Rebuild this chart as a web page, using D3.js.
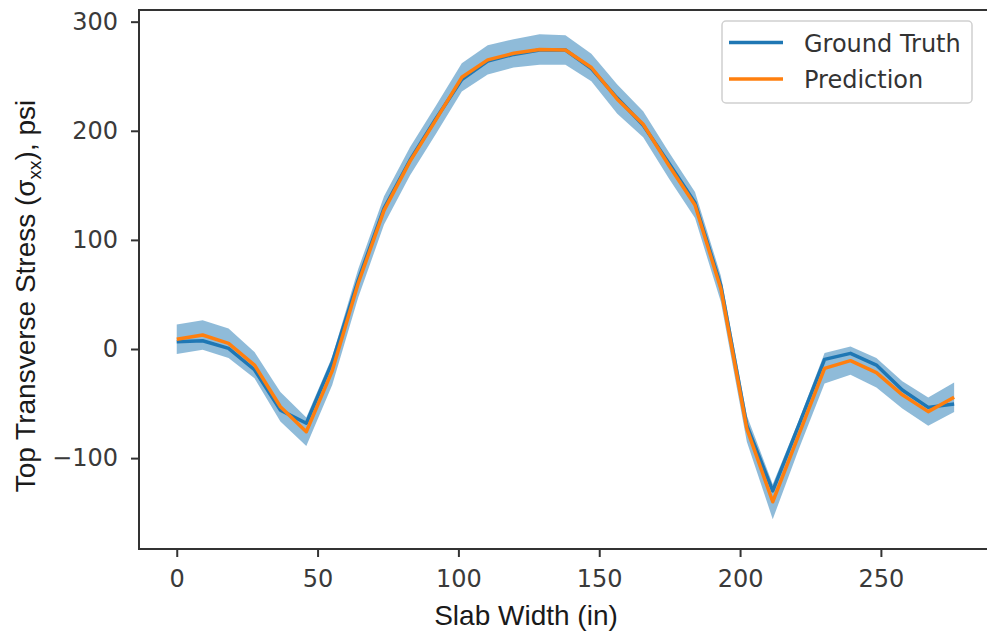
<!DOCTYPE html>
<html>
<head>
<meta charset="utf-8">
<script src="https://cdn.jsdelivr.net/npm/d3@7"></script>
<style>
  html, body { margin: 0; padding: 0; background: #fff; }
  svg { display: block; }
</style>
</head>
<body>
<svg id="chart" width="987" height="637"></svg>
<script>
// Transverse stress across the slab width: measured vs. predicted, with the prediction band
const slabWidth = [0, 9.2, 18.4, 27.6, 36.8, 46, 55.2, 64.4, 73.6, 82.8, 92, 101.2, 110.4, 119.6, 128.8,
  138, 147.2, 156.4, 165.6, 174.8, 184, 193.2, 202.4, 211.6, 220.8, 230, 239.2, 248.4, 257.6, 266.8, 276];

const groundTruth = [6.7, 7.6, 0.6, -19, -56, -68, -12, 63, 129, 173, 211, 247, 264, 270, 274,
  274, 257, 230, 205, 170, 134, 58, -70, -130, -70, -9.5, -4, -14.7, -37.6, -53.5, -50.4];

const prediction = [8.9, 12.8, 5.2, -14.7, -52.9, -75.8, -20, 60, 127, 172, 210, 249, 265, 271, 274.5,
  274, 258, 229, 206, 168, 132, 55, -73, -140, -79, -17.7, -10.7, -21.7, -42, -57.4, -44.3];

// half-width of the shaded band around the prediction
const spread = [13.5, 13.5, 13.5, 12, 13.5, 13, 13, 13, 13, 13, 13, 13, 13.5, 13, 14,
  13.5, 12.5, 13.5, 12, 12, 12, 12, 12, 16, 13, 14, 13, 13.5, 12.5, 13, 13.5];

const xTicks = [0, 50, 100, 150, 200, 250];
const yTicks = [-100, 0, 100, 200, 300];
const seriesNames = ["Ground Truth", "Prediction"];
const seriesColors = ["#1f77b4", "#ff7f0e"];

const rows = slabWidth.map((w, i) => ({
  w, gt: groundTruth[i], pr: prediction[i], lo: prediction[i] - spread[i], hi: prediction[i] + spread[i]
}));

const svg = d3.select("#chart");
const plotLeft = 139, plotRight = 993, plotTop = 10, plotBottom = 549;

const x = d3.scaleLinear().domain([-13.4, 289.8]).range([plotLeft, plotRight]);
const y = d3.scaleLinear().domain([-183.3, 310.7]).range([plotBottom, plotTop]);

const tickFont = "'DejaVu Sans', sans-serif";
const labelFont = "'Liberation Sans', Arial, sans-serif";

// shaded band
svg.append("path")
  .datum(rows)
  .attr("d", d3.area().x(d => x(d.w)).y0(d => y(d.lo)).y1(d => y(d.hi)))
  .attr("fill", "#1f77b4")
  .attr("fill-opacity", 0.5)
  .attr("stroke", "none");

// lines
svg.append("path")
  .datum(rows)
  .attr("d", d3.line().x(d => x(d.w)).y(d => y(d.gt)))
  .attr("fill", "none")
  .attr("stroke", seriesColors[0])
  .attr("stroke-width", 3.5)
  .attr("stroke-linejoin", "round");

svg.append("path")
  .datum(rows)
  .attr("d", d3.line().x(d => x(d.w)).y(d => y(d.pr)))
  .attr("fill", "none")
  .attr("stroke", seriesColors[1])
  .attr("stroke-width", 3.5)
  .attr("stroke-linejoin", "round");

// frame
svg.append("rect")
  .attr("x", plotLeft).attr("y", plotTop)
  .attr("width", plotRight - plotLeft).attr("height", plotBottom - plotTop)
  .attr("fill", "none")
  .attr("stroke", "#333")
  .attr("stroke-width", 2);

// axes
const xAxis = svg.append("g")
  .attr("transform", `translate(0,${plotBottom})`)
  .call(d3.axisBottom(x).tickValues(xTicks).tickFormat(d3.format("d")).tickSize(8).tickPadding(13).tickSizeOuter(0));
const yAxis = svg.append("g")
  .attr("transform", `translate(${plotLeft},0)`)
  .call(d3.axisLeft(y).tickValues(yTicks).tickFormat(d => d < 0 ? "\u2212" + Math.abs(d) : d).tickSize(8).tickPadding(13).tickSizeOuter(0));

[xAxis, yAxis].forEach(g => {
  g.select(".domain").remove();
  g.selectAll(".tick line").attr("stroke", "#333").attr("stroke-width", 2);
  g.selectAll(".tick text")
    .attr("fill", "#3a3a3a")
    .style("font-family", tickFont)
    .style("font-size", "24px");
});

// axis titles
svg.append("text")
  .attr("x", 526).attr("y", 625)
  .attr("text-anchor", "middle")
  .attr("fill", "#1a1a1a")
  .style("font-family", labelFont)
  .style("font-size", "28px")
  .text("Slab Width (in)");

const yTitle = svg.append("text")
  .attr("transform", "translate(35,296) rotate(-90)")
  .attr("text-anchor", "middle")
  .attr("fill", "#1a1a1a")
  .style("font-family", labelFont)
  .style("font-size", "28px");
yTitle.append("tspan").text("Top Transverse Stress (\u03c3");
yTitle.append("tspan").attr("dy", 6).style("font-size", "19px").text("xx");
yTitle.append("tspan").attr("dy", -6).text("), psi");

// legend
const legend = svg.append("g");
legend.append("rect")
  .attr("x", 722).attr("y", 21)
  .attr("width", 250).attr("height", 82)
  .attr("rx", 4)
  .attr("fill", "#fff").attr("fill-opacity", 0.8)
  .attr("stroke", "#d0d0d0").attr("stroke-width", 1.5);

seriesNames.forEach((name, i) => {
  const ly = 42.5 + i * 36.5;
  legend.append("line")
    .attr("x1", 729).attr("x2", 783)
    .attr("y1", ly).attr("y2", ly)
    .attr("stroke", seriesColors[i]).attr("stroke-width", 3.5);
  legend.append("text")
    .attr("x", 804).attr("y", ly + 9)
    .attr("fill", "#333")
    .style("font-family", tickFont)
    .style("font-size", "24px")
    .text(name);
});
</script>
</body>
</html>
